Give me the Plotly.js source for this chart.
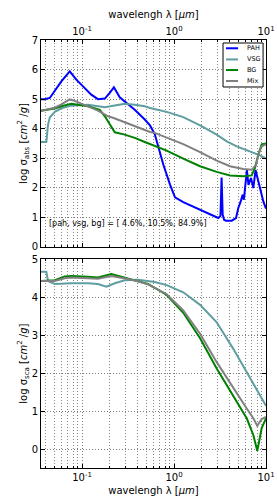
<!DOCTYPE html>
<html>
<head>
<meta charset="utf-8">
<script src="https://cdn.plot.ly/plotly-3.0.1.min.js"></script>
<style>html,body{margin:0;padding:0;background:#fff;}#chart{width:277px;height:504px;}</style>
</head>
<body>
<div id="chart"></div>
<script>
// ---- data ----
// top panel: log absorption cross-section
const wlPah = [0.0358, 0.0393, 0.0446, 0.0505, 0.0596, 0.0735, 0.0867, 0.1025, 0.126, 0.149, 0.177, 0.200, 0.222, 0.257, 0.303, 0.374, 0.481, 0.548, 0.617, 0.649, 0.766, 0.905, 1.025, 1.26, 1.92, 3.03, 3.2, 3.29, 3.38, 3.5, 3.67, 4.24, 4.72, 5.0, 5.31, 5.58, 5.75, 5.91, 6.2, 6.45, 6.87, 7.28, 7.7, 8.25, 8.61, 9.35, 10.0];
const absPah = [5.0, 5.0, 5.04, 5.27, 5.6, 5.94, 5.66, 5.43, 5.15, 5.0, 5.02, 5.21, 5.4, 5.06, 4.87, 4.64, 4.31, 4.11, 3.82, 3.57, 2.78, 2.11, 1.68, 1.52, 1.26, 0.98, 1.05, 2.35, 1.1, 0.92, 0.89, 0.89, 0.98, 1.32, 1.54, 1.77, 1.6, 2.05, 2.6, 2.1, 2.33, 1.99, 2.6, 2.22, 1.95, 1.54, 1.3];

const wlVsg = [0.0358, 0.0409, 0.0427, 0.0446, 0.0505, 0.0596, 0.0765, 0.116, 0.177, 0.227, 0.291, 0.374, 0.481, 0.548, 0.833, 1.26, 1.92, 2.91, 3.74, 4.81, 6.70, 8.61, 10.0];
const absVsg = [3.55, 3.55, 4.14, 4.38, 4.57, 4.69, 4.78, 4.81, 4.73, 4.78, 4.84, 4.81, 4.76, 4.70, 4.57, 4.39, 4.11, 3.80, 3.57, 3.40, 3.24, 3.10, 2.99];

const wlBg = [0.0358, 0.0505, 0.0596, 0.0765, 0.116, 0.156, 0.177, 0.200, 0.227, 0.291, 0.374, 0.481, 0.548, 0.617, 0.833, 1.26, 1.92, 2.91, 4.06, 5.67, 6.99, 7.59, 8.25, 8.98, 10.0];
const absBg = [4.61, 4.68, 4.76, 4.84, 4.76, 4.64, 4.42, 4.14, 3.88, 3.80, 3.69, 3.55, 3.48, 3.40, 3.26, 2.99, 2.73, 2.54, 2.42, 2.39, 2.42, 2.67, 3.12, 3.47, 3.50];

const wlMix = [0.0358, 0.0505, 0.0596, 0.0735, 0.0833, 0.116, 0.149, 0.192, 0.217, 0.291, 0.406, 0.548, 0.617, 0.833, 1.26, 1.92, 2.91, 4.06, 5.67, 6.99, 7.79, 8.25, 8.98, 10.0];
const absMix = [4.61, 4.71, 4.82, 4.99, 4.94, 4.76, 4.61, 4.42, 4.37, 4.22, 4.05, 3.89, 3.86, 3.71, 3.48, 3.21, 2.92, 2.73, 2.64, 2.61, 2.78, 3.12, 3.40, 3.48];

// bottom panel: log scattering cross-section
const wlVsgSca = [0.0358, 0.0409, 0.0427, 0.0505, 0.0765, 0.116, 0.149, 0.184, 0.227, 0.291, 0.406, 0.548, 0.617, 0.833, 1.26, 1.92, 2.91, 4.41, 6.70, 8.61, 10.0];
const scaVsg = [4.67, 4.67, 4.43, 4.35, 4.37, 4.37, 4.35, 4.28, 4.37, 4.45, 4.46, 4.42, 4.40, 4.32, 4.13, 3.80, 3.34, 2.64, 1.86, 1.42, 1.14];

const wlSca = [0.0358, 0.0505, 0.0648, 0.0765, 0.116, 0.149, 0.208, 0.246, 0.316, 0.406, 0.521, 0.617, 0.833, 1.26, 1.92, 2.91, 4.41, 6.17, 7.28, 8.04, 8.98, 10.0];
const scaBg = [4.43, 4.45, 4.55, 4.56, 4.54, 4.52, 4.61, 4.56, 4.49, 4.43, 4.35, 4.25, 4.06, 3.59, 2.92, 2.12, 1.38, 0.81, 0.37, -0.05, 0.55, 0.81];
const scaMix = [4.43, 4.43, 4.50, 4.52, 4.50, 4.49, 4.56, 4.53, 4.48, 4.42, 4.34, 4.25, 4.08, 3.65, 3.04, 2.29, 1.60, 1.07, 0.81, 0.61, 0.79, 0.85];

const seriesNames = ['PAH', 'VSG', 'BG', 'Mix'];
const seriesColors = ['#0000ff', '#5f9ea0', '#008000', '#808080'];
const xTickVals = [0.1, 1, 10];
const xTickText = ['10<sup>-1</sup>', '10<sup>0</sup>', '10<sup>1</sup>'];
const xMinorVals = [0.04,0.05,0.06,0.07,0.08,0.09,0.2,0.3,0.4,0.5,0.6,0.7,0.8,0.9,2,3,4,5,6,7,8,9];
const massFractionText = '[pah, vsg, bg] = [ 4.6%, 10.5%, 84.9%]';
const xMin = 0.0358, xMax = 10;

// ---- traces ----
const lw = 2;
function tr(x, y, i, xa, ya) {
  return {x: x, y: y, type: 'scatter', mode: 'lines', name: seriesNames[i],
    line: {color: seriesColors[i], width: lw}, xaxis: xa, yaxis: ya, showlegend: false, hoverinfo: 'skip'};
}
const data = [
  tr(wlPah, absPah, 0, 'x', 'y'),
  tr(wlVsg, absVsg, 1, 'x', 'y'),
  tr(wlBg, absBg, 2, 'x', 'y'),
  tr(wlMix, absMix, 3, 'x', 'y'),
  tr(wlVsgSca, scaVsg, 1, 'x2', 'y2'),
  tr(wlSca, scaBg, 2, 'x2', 'y2'),
  tr(wlSca, scaMix, 3, 'x2', 'y2')
];

const font = {family: 'DejaVu Sans', size: 10, color: '#000'};
const gridStyle = {showgrid: true, gridcolor: '#444', griddash: '1px,2px', gridwidth: 0.7};
function xAxis(side, anchor) {
  return Object.assign({
    type: 'log', range: [Math.log10(xMin), Math.log10(xMax)], side: side, anchor: anchor,
    tickmode: 'array', tickvals: xTickVals, ticktext: xTickText,
    ticks: 'inside', ticklen: 4, tickcolor: '#000', showline: true, linecolor: '#000', linewidth: 1, mirror: 'ticks',
    zeroline: false, automargin: false, tickfont: font,
    minor: {tickmode: 'array', tickvals: xMinorVals, ticks: 'inside', ticklen: 2, tickcolor: '#000',
            showgrid: true, gridcolor: '#555', griddash: '1px,2px', gridwidth: 0.7},
    title: {text: 'wavelengh λ [<i>μm</i>]', font: font, standoff: 4}
  }, gridStyle);
}
function yAxis(domain, range, vals, anchor, titleText) {
  return Object.assign({
    domain: domain, range: range, anchor: anchor, tickmode: 'array', tickvals: vals,
    ticks: 'inside', ticklen: 4, tickcolor: '#000', showline: true, linecolor: '#000', linewidth: 1, mirror: 'ticks',
    zeroline: false, automargin: false, tickfont: font,
    title: {text: titleText, font: font, standoff: 2}
  }, gridStyle);
}

// compact legend box in the top panel (axis-domain coordinates)
const legBox = {x0: 0.809, x1: 0.987, y0: 0.773, y1: 0.9855};
const legRowsY = [0.960, 0.906, 0.855, 0.802];
const legLineX = [0.822, 0.876];
const legTextX = 0.905;
const shapes = [{type: 'rect', xref: 'x domain', yref: 'y domain', x0: legBox.x0, x1: legBox.x1, y0: legBox.y0, y1: legBox.y1,
  line: {color: '#000', width: 1}, fillcolor: '#fff', layer: 'above'}];
const annotations = [{
  text: massFractionText, xref: 'x domain', yref: 'y', x: 0.027, y: 0.78,
  xanchor: 'left', yanchor: 'middle', showarrow: false,
  font: {family: 'DejaVu Sans', size: 8, color: '#000'}
}];
seriesNames.forEach(function(name, i) {
  shapes.push({type: 'line', xref: 'x domain', yref: 'y domain', x0: legLineX[0], x1: legLineX[1],
    y0: legRowsY[i], y1: legRowsY[i], line: {color: seriesColors[i], width: lw}, layer: 'above'});
  annotations.push({text: name, xref: 'x domain', yref: 'y domain', x: legTextX, y: legRowsY[i],
    xanchor: 'left', yanchor: 'middle', showarrow: false,
    font: {family: 'DejaVu Sans', size: 6.5, color: '#000'}});
});

const layout = {
  width: 277, height: 504,
  margin: {l: 41, r: 11, t: 40, b: 36},
  paper_bgcolor: '#fff', plot_bgcolor: '#fff',
  font: font,
  showlegend: false,
  xaxis: xAxis('top', 'y'),
  yaxis: yAxis([0.5164, 1], [0, 7], [0,1,2,3,4,5,6,7], 'x', 'log σ<sub>abs</sub> [<i>cm</i><sup>2</sup> /<i>g</i>]'),
  xaxis2: xAxis('bottom', 'y2'),
  yaxis2: yAxis([0, 0.4876], [-0.5, 5], [0,1,2,3,4,5], 'x2', 'log σ<sub>sca</sub> [<i>cm</i><sup>2</sup> /<i>g</i>]'),
  shapes: shapes,
  annotations: annotations
};

Plotly.newPlot('chart', data, layout, {staticPlot: true, displayModeBar: false});
</script>
</body>
</html>
